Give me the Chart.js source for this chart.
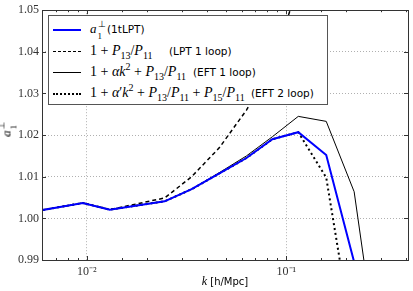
<!DOCTYPE html>
<html>
<head>
<meta charset="utf-8">
<script src="https://cdn.jsdelivr.net/npm/chart.js@4"></script>
<style>
  body { margin: 0; background: #fff; }
  #wrap { position: relative; width: 413px; height: 291px; }
  #legend {
    position: absolute; left: 48px; top: 15px; width: 280px; height: 90px;
    background: #fff; border: 1.5px solid #555; box-sizing: border-box;
    font-family: "Liberation Serif", serif; font-size: 14px; color: #000;
  }
  .row { position: absolute; left: 0; width: 100%; height: 20px; line-height: 20px; white-space: nowrap; }
  .sw { position: absolute; left: 4px; width: 28px; height: 0; top: 10px; }
  .math { position: absolute; left: 41px; top: 0; }
  .sans { position: absolute; top: 0; font-family: "DejaVu Sans", sans-serif; font-size: 10.5px; }
  .pl { margin: 0 3.5px; }
  .st { position: relative; display: inline-block; width: 8px; height: 1em; font-size: 9px; line-height: 9px; }
  .st .sp { position: absolute; left: 1px; top: -4px; }
  .st .sb { position: absolute; left: 1px; top: 8px; }
  sub, sup { font-size: 10px; line-height: 0; }
  #ylab { position: absolute; left: 0px; top: 122px; transform: rotate(-90deg); font-family: "Liberation Serif", serif; font-size: 12px; }
  #ylab sub, #ylab sup { font-size: 9px; }
  #xlab { position: absolute; left: 0; width: 450px; top: 274px; text-align: center; font-size: 10px; font-family: "DejaVu Sans", sans-serif; }
</style>
</head>
<body>
<div id="wrap">
  <canvas id="chart"></canvas>
  <div id="legend">
    <div class="row" style="top:3px"><span class="sw" style="border-top:2px solid #0000ff"></span><span class="math" style="font-size:13px"><i>a</i><span class="st"><span class="sp">⊥</span><span class="sb">1</span></span></span><span class="sans" style="left:58px">(1tLPT)</span></div>
    <div class="row" style="top:25px"><span class="sw" style="border-top:1.5px dashed #000"></span><span class="math">1<span class="pl">+</span><i>P</i><sub>13</sub>/<i>P</i><sub>11</sub></span><span class="sans" style="left:120px">(LPT 1 loop)</span></div>
    <div class="row" style="top:46px"><span class="sw" style="border-top:1px solid #000"></span><span class="math">1<span class="pl">+</span><i>αk</i><sup>2</sup><span class="pl">+</span><i>P</i><sub>13</sub>/<i>P</i><sub>11</sub></span><span class="sans" style="left:144px">(EFT 1 loop)</span></div>
    <div class="row" style="top:67px"><span class="sw" style="border-top:2px dotted #000"></span><span class="math">1<span class="pl">+</span><i>α</i>′<i>k</i><sup>2</sup><span class="pl">+</span><i>P</i><sub>13</sub>/<i>P</i><sub>11</sub><span class="pl">+</span><i>P</i><sub>15</sub>/<i>P</i><sub>11</sub></span><span class="sans" style="left:202px">(EFT 2 loop)</span></div>
  </div>
  <div id="ylab"><i>a</i><span class="st"><span class="sp">⊥</span><span class="sb">1</span></span></div>
  <div id="xlab"><i style="font-family:'Liberation Serif',serif;font-size:12px">k</i> [h/Mpc]</div>
</div>
<script>
// wavenumbers k [h/Mpc]
var k = [0.006, 0.00955, 0.01303, 0.02455, 0.0335, 0.0462, 0.0631, 0.0851, 0.1148, 0.1585, 0.2188, 0.2985];
var a1tLPT   = [1.0020, 1.0037, 1.0021, 1.0041, 1.0070, 1.0108, 1.0145, 1.0190, 1.0207, 1.0152, 0.9895, 0.955];
var lpt1Loop = [1.0020, 1.0037, 1.0021, 1.0049, 1.0100, 1.0170, 1.0260, 1.0370, 1.0560, 1.0800, 1.1100, 1.150];
var eft1Loop = [1.0020, 1.0037, 1.0021, 1.0041, 1.0070, 1.0110, 1.0150, 1.0196, 1.0245, 1.0233, 1.0064, 0.961];
var eft2Loop = [1.0020, 1.0037, 1.0021, 1.0041, 1.0070, 1.0108, 1.0145, 1.0190, 1.0207, 1.0098, 0.9690, 0.940];
var xRange = [0.005957, 0.4074];
var yRange = [0.99, 1.05];
var xTickLabels = { "0.01": "10\u207B\u00B2", "0.1": "10\u207B\u00B9" };

function pts(vals) {
  return k.map(function(x, i) { return { x: x, y: vals[i] }; });
}
function isDecade(v) {
  var l = Math.log10(v);
  return Math.abs(l - Math.round(l)) < 1e-6;
}

// box frame with inward ticks, like the matplotlib axes
var framePlugin = {
  id: 'frame',
  afterDatasetsDraw: function(chart) {
    var ctx = chart.ctx, a = chart.chartArea;
    var xs = chart.scales.x, ys = chart.scales.y;
    ctx.save();
    ctx.strokeStyle = '#333';
    ctx.lineWidth = 1;
    ctx.beginPath();
    xs.ticks.forEach(function(t) {
      var px = Math.round(xs.getPixelForValue(t.value)) + 0.5;
      var len = isDecade(t.value) ? 4 : 2;
      ctx.moveTo(px, a.bottom); ctx.lineTo(px, a.bottom - len);
      ctx.moveTo(px, a.top); ctx.lineTo(px, a.top + len);
    });
    ys.ticks.forEach(function(t) {
      var py = Math.round(ys.getPixelForValue(t.value)) + 0.5;
      ctx.moveTo(a.left, py); ctx.lineTo(a.left + 4, py);
      ctx.moveTo(a.right, py); ctx.lineTo(a.right - 4, py);
    });
    ctx.stroke();
    ctx.strokeRect(Math.round(a.left) + 0.5, Math.round(a.top) + 0.5, Math.round(a.right - a.left), Math.round(a.bottom - a.top));
    ctx.restore();
  }
};

new Chart(document.getElementById('chart'), {
  type: 'line',
  data: {
    datasets: [
      { label: 'a1 (1tLPT)', data: pts(a1tLPT), borderColor: '#0000ff', borderWidth: 2 },
      { label: '1 + P13/P11 (LPT 1 loop)', data: pts(lpt1Loop), borderColor: '#000', borderWidth: 1.5, borderDash: [4, 3] },
      { label: '1 + ak2 + P13/P11 (EFT 1 loop)', data: pts(eft1Loop), borderColor: '#000', borderWidth: 1 },
      { label: "1 + a'k2 + P13/P11 + P15/P11 (EFT 2 loop)", data: pts(eft2Loop), borderColor: '#000', borderWidth: 2, borderDash: [2, 3] }
    ]
  },
  options: {
    responsive: true,
    maintainAspectRatio: false,
    animation: false,
    layout: { padding: { left: 0, right: 4, top: 8, bottom: 0 } },
    elements: { point: { radius: 0 }, line: { tension: 0 } },
    plugins: { legend: { display: false }, tooltip: { enabled: false } },
    scales: {
      x: {
        type: 'logarithmic',
        min: xRange[0], max: xRange[1],
        afterFit: function(s) { s.height = 31; },
        border: { display: false, dash: [1, 2] },
        grid: {
          drawTicks: false,
          color: function(c) { return c.tick && isDecade(c.tick.value) ? '#b0b0b0' : 'rgba(0,0,0,0)'; }
        },
        ticks: {
          autoSkip: false, maxRotation: 0, padding: 5,
          color: '#333', font: { family: 'Liberation Serif', size: 12 },
          callback: function(v) { return isDecade(v) ? (xTickLabels[String(Math.pow(10, Math.round(Math.log10(v))))] || '') : ''; }
        }
      },
      y: {
        min: yRange[0], max: yRange[1],
        afterFit: function(s) { s.width = 42; },
        border: { display: false, dash: [1, 2] },
        grid: { drawTicks: false, color: '#b0b0b0' },
        ticks: {
          stepSize: 0.01, padding: 3,
          color: '#333', font: { family: 'Liberation Serif', size: 12 },
          callback: function(v) { return Number(v).toFixed(2); }
        }
      }
    }
  },
  plugins: [framePlugin]
});
</script>
</body>
</html>
